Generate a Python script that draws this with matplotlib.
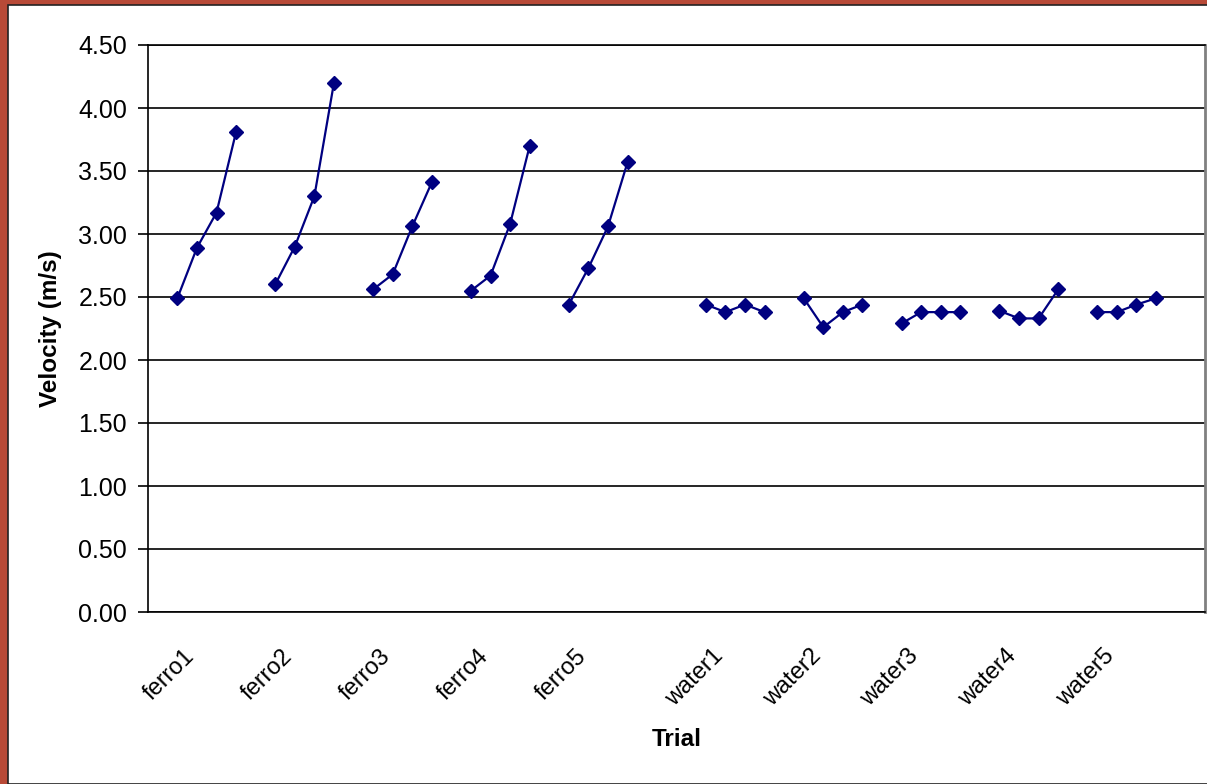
import numpy as np
import matplotlib.pyplot as plt
from matplotlib.patches import Rectangle
from matplotlib.transforms import ScaledTranslation

plt.rcParams['font.family'] = ['Liberation Sans', 'DejaVu Sans']

# trial names and the four velocity readings for each trial (m/s)
trials = ['ferro1', 'ferro2', 'ferro3', 'ferro4', 'ferro5',
          'water1', 'water2', 'water3', 'water4', 'water5']
velocity = [
    [2.49, 2.89, 3.17, 3.81],
    [2.60, 2.90, 3.30, 4.20],
    [2.56, 2.68, 3.06, 3.41],
    [2.55, 2.67, 3.08, 3.70],
    [2.44, 2.73, 3.06, 3.57],
    [2.44, 2.38, 2.44, 2.38],
    [2.49, 2.26, 2.38, 2.44],
    [2.29, 2.38, 2.38, 2.38],
    [2.39, 2.33, 2.33, 2.56],
    [2.38, 2.38, 2.44, 2.49],
]
# first spreadsheet row of each trial (blank rows sit between groups)
start_rows = [1, 6, 11, 16, 21, 28, 33, 38, 43, 48]
n_rows = 54

fig = plt.figure(figsize=(12.07, 7.84), dpi=100)
fig.patch.set_facecolor('#B84A37')
fig.patches.append(Rectangle((8 / 1207, 0), 1, 1 - 5 / 784, transform=fig.transFigure,
                             facecolor='white', edgecolor='#222222', lw=1.2, zorder=-10))

ax = fig.add_axes([148 / 1207, 1 - 612 / 784, (1205 - 148) / 1207, (612 - 45) / 784])
ax.set_facecolor('white')

for start, vals in zip(start_rows, velocity):
    x = np.arange(start, start + len(vals))
    ax.plot(x, vals, color='#000080', lw=1.6, marker='D', ms=7.5,
            markerfacecolor='#000080', markeredgecolor='#000080', zorder=3)

ax.set_xlim(-0.5, n_rows - 0.5)
ax.set_ylim(0, 4.5)
ax.set_yticks(np.arange(0, 4.51, 0.5))
ax.set_yticklabels([f'{v:.2f}' for v in np.arange(0, 4.51, 0.5)])
ax.grid(axis='y', color='black', lw=1.2)
ax.set_axisbelow(True)

ax.set_xticks(start_rows)
ax.set_xticklabels(trials, rotation=45, ha='right', va='top', rotation_mode='anchor')
ax.tick_params(axis='x', length=0, pad=24, labelsize=17)
ax.tick_params(axis='y', length=7, width=1.2, pad=8, labelsize=18, direction='out')
for lbl in ax.get_xticklabels():
    lbl.set_transform(lbl.get_transform() + ScaledTranslation(6 / 100, 0, fig.dpi_scale_trans))

for side in ['left', 'bottom', 'top']:
    ax.spines[side].set_color('black')
    ax.spines[side].set_linewidth(1.2)
ax.spines['right'].set_color('#808080')
ax.spines['right'].set_linewidth(2)

ax.set_ylabel('Velocity (m/s)', fontsize=17.5, fontweight='bold', labelpad=12)
ax.set_xlabel('Trial', fontsize=17.5, fontweight='bold', labelpad=12)

fig.savefig('out.png', dpi=100, facecolor=fig.get_facecolor())
